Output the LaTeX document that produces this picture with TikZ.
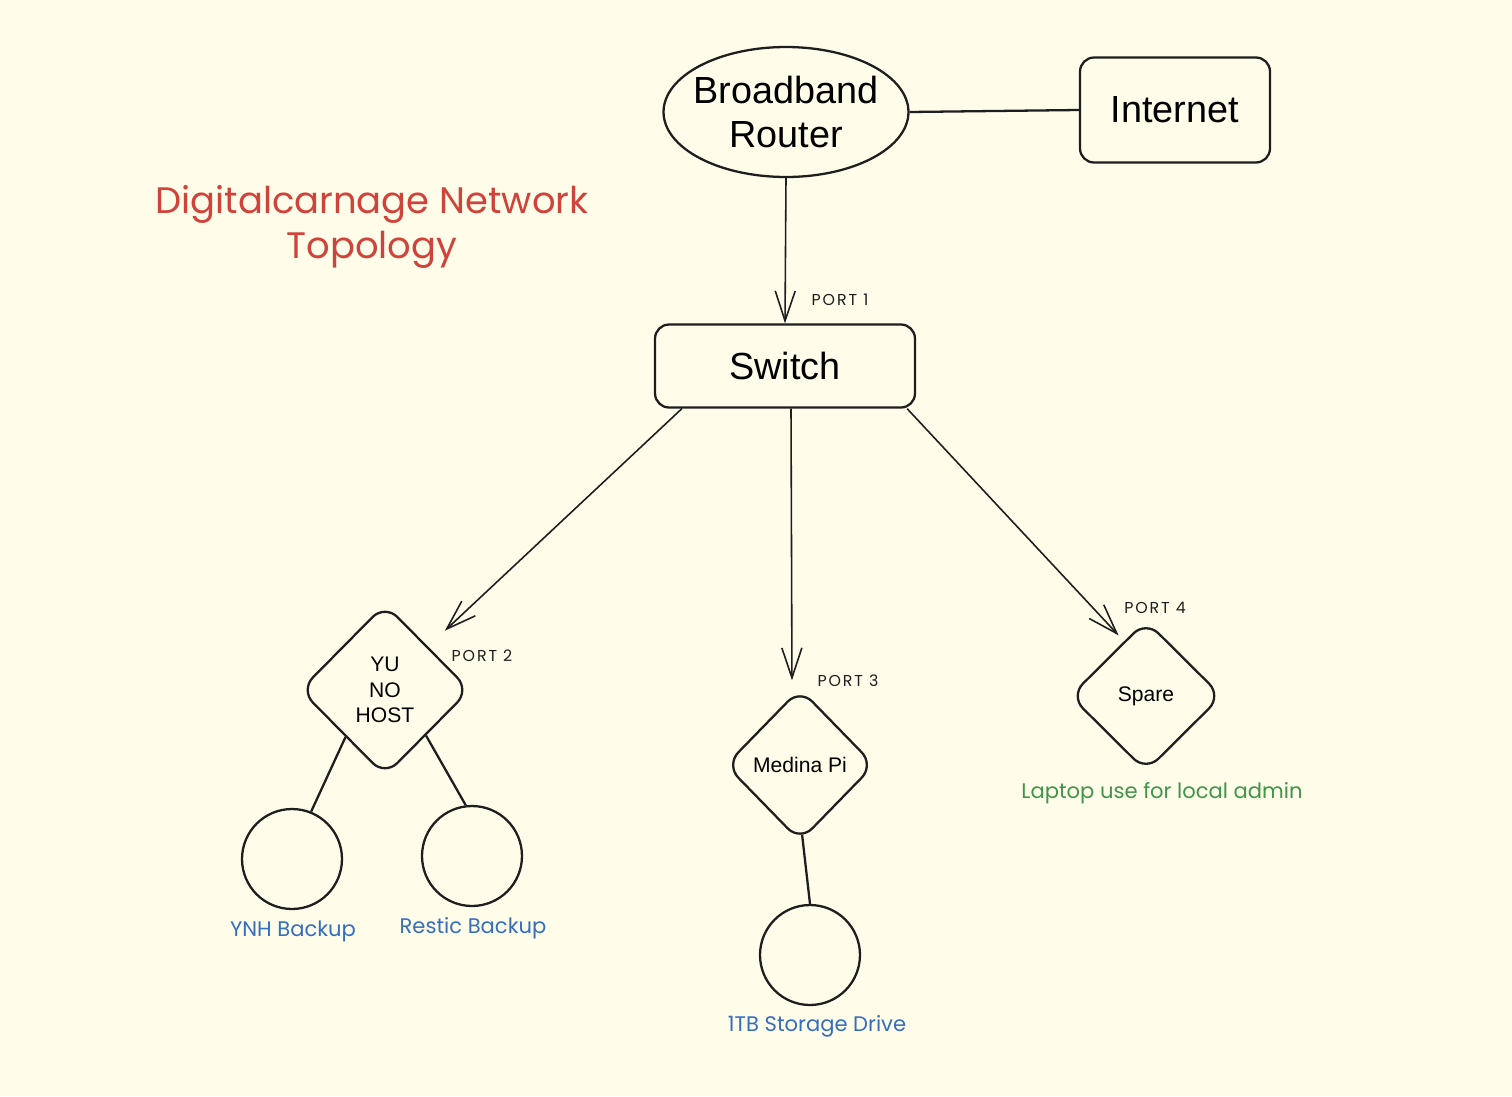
\documentclass[tikz,border=0pt]{standalone}
\usepackage{xcolor}
\usepackage{fontspec}
\setmainfont{Liberation Sans}
\newfontfamily\handfont{Poppins}
\usepackage{tikz}
\usetikzlibrary{arrows.meta,positioning,shapes.geometric}

\definecolor{paper}{RGB}{255,252,234}
\definecolor{inkred}{RGB}{208,67,58}
\definecolor{inkblue}{RGB}{52,110,192}
\definecolor{inkgreen}{RGB}{64,150,72}
\definecolor{ink}{RGB}{30,30,30}

\begin{document}
\begin{tikzpicture}[x=0.02cm, y=-0.02cm, >={Straight Barb[length=6mm,width=4mm]},
  box/.style={draw=ink,line width=1.3pt,rounded corners=8pt,align=center,font=\fontsize{21.5}{25}\selectfont,inner sep=0pt},
  hub/.style={draw=ink,line width=1.3pt,ellipse,align=center,font=\fontsize{21.5}{25}\selectfont,inner xsep=-7.5pt,inner ysep=0pt},
  host/.style={draw=ink,line width=1.3pt,diamond,rounded corners=10pt,align=center,font=\fontsize{12}{14.5}\selectfont,inner sep=0pt},
  disk/.style={draw=ink,line width=1.3pt,circle,minimum size=2cm,inner sep=0pt},
  port/.style={font=\handfont\addfontfeature{LetterSpace=12}\fontsize{9}{10}\selectfont,text=ink},
  note/.style={font=\handfont\fontsize{12}{14}\selectfont},
  wire/.style={draw=ink,line width=1.3pt},
  link/.style={draw=ink,line width=0.9pt,->}]
\fill[paper] (0,0) rectangle (1512,1096);
\useasboundingbox (0,0) rectangle (1512,1096);
% title
\node[note,text=inkred,align=center,font=\handfont\fontsize{21}{26}\selectfont] (title) at (372,227) {Digitalcarnage Network\\Topology};
% top row
\node[hub,minimum width=4.9cm,minimum height=2.6cm] (router) at (786,112) {Broadband\\Router};
\node[box,minimum width=3.8cm,minimum height=2.1cm] (internet) at (1175,110) {Internet};
\node[box,minimum width=5.2cm,minimum height=1.66cm] (switch) at (785,366) {Switch};
\draw[wire] (router.east)--(internet.west);
\draw[link] (router.south)--(switch.north);
\node[port] (p1) at (840,300) {PORT 1};
% hosts
\node[host,minimum width=3.4cm,minimum height=3.44cm] (yunohost) at (385,690) {YU\\NO\\HOST};
\node[host,minimum width=2.98cm,minimum height=3.06cm] (medina) at (800,765) {Medina Pi};
\node[host,minimum width=3.04cm,minimum height=3.02cm] (spare) at (1146,696) {Spare};
\draw[link,shorten >=0.46cm] ([xshift=0.56cm]switch.south west)--(yunohost.north east);
\draw[link,shorten >=0.14cm] ([xshift=0.12cm]switch.south)--([xshift=-0.16cm]medina.north);
\draw[link,shorten >=0.2cm] ([xshift=-0.18cm]switch.south east)--([xshift=0.36cm,yshift=0.3cm]spare.north west);
\node[port] (p2) at (482,656) {PORT 2};
\node[port] (p3) at (848,681) {PORT 3};
\node[port] (p4) at (1155,608) {PORT 4};
\node[note,text=inkgreen] (laptop) at (1162,793) {Laptop use for local admin};
% disks
\node[disk] (ynhdisk) at (292,859) {};
\node[disk] (resticdisk) at (472,856) {};
\node[disk] (storage) at (810,955) {};
\draw[wire] (yunohost.230)--(ynhdisk.68);
\draw[wire] (yunohost.312)--(resticdisk.97);
\draw[wire,shorten <=-0.16cm] ([xshift=0.06cm]medina.south)--(storage.north);
\node[note,text=inkblue] (ynhlabel) at (293,931) {YNH Backup};
\node[note,text=inkblue] (resticlabel) at (473,928) {Restic Backup};
\node[note,text=inkblue] (storagelabel) at (817,1026) {1TB Storage Drive};
\end{tikzpicture}
\end{document}
